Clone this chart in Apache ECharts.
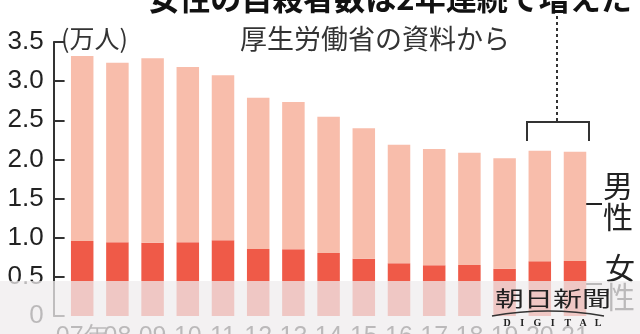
<!DOCTYPE html>
<html>
<head>
<meta charset="utf-8">
<script src="https://cdn.jsdelivr.net/npm/echarts@6/dist/echarts.min.js"></script>
<style>html,body{margin:0;padding:0;background:#fff;}#c{width:640px;height:334px;}</style>
</head>
<body>
<div id="c"></div>
<script>
const categories = ['07年','08','09','10','11','12','13','14','15','16','17','18','19','20','21'];
const women = [0.958,0.941,0.936,0.941,0.967,0.856,0.852,0.805,0.732,0.673,0.648,0.651,0.604,0.699,0.703];
const men = [2.363,2.294,2.356,2.239,2.107,1.932,1.881,1.741,1.665,1.515,1.485,1.435,1.410,1.412,1.396];
const yTickLabels = ['0','0.5','1.0','1.5','2.0','2.5','3.0','3.5'];

const JP = '"Noto Sans CJK JP"';
const chart = echarts.init(document.getElementById('c'));

function yLabel(v) {
  const n = Number(v);
  const idx = Math.round(n / 0.5);
  if (Math.abs(idx * 0.5 - n) < 1e-6 && idx >= 0 && idx < yTickLabels.length) return yTickLabels[idx];
  return isFinite(n) ? n.toFixed(1) : '';
}

const digital = 'DIGITAL'.split('');
const logoLetters = digital.map((ch, i) => ({
  type: 'text', x: 507 + i * 15.2, y: 323, z: 102,
  style: { text: ch, font: 'bold 10px "Liberation Serif"', fill: '#222', align: 'center', verticalAlign: 'middle' }
}));

chart.setOption({
  animation: false,
  grid: [
    { left: 53.6, right: 47.4, top: 42, bottom: 18, outerBoundsMode: 'none' },
    { left: 64.6, right: 47.4, top: 42, bottom: 18, outerBoundsMode: 'none' }
  ],
  xAxis: [
    { type: 'category', gridIndex: 0, data: [''], axisLine: { show: false }, axisTick: { show: false }, axisLabel: { show: false } },
    {
      type: 'category', gridIndex: 1, data: categories,
      axisLine: { show: false }, axisTick: { show: false },
      axisLabel: { interval: 0, margin: 9, color: '#222', fontSize: 25, fontFamily: '"Liberation Sans"' }
    }
  ],
  yAxis: [
    {
      type: 'value', gridIndex: 0, min: 0, max: 3.5, interval: 0.5,
      axisLine: { show: true, lineStyle: { color: '#333', width: 2 } },
      axisTick: { show: false },
      splitLine: { lineStyle: { opacity: 0 } },
      axisLabel: { margin: 10, color: '#222', fontSize: 26, fontFamily: '"Liberation Sans"', formatter: yLabel }
    },
    {
      type: 'value', gridIndex: 1, min: 0, max: 3.5, interval: 0.5,
      axisLine: { show: true, lineStyle: { color: '#333', width: 0, opacity: 0 } },
      axisTick: { show: true, length: 11, lineStyle: { color: '#333', width: 2 } },
      axisLabel: { show: false },
      splitLine: { lineStyle: { opacity: 0 } }
    }
  ],
  series: [
    { type: 'bar', name: '女性', stack: 't', xAxisIndex: 1, yAxisIndex: 1, data: women, barWidth: 22.5, itemStyle: { color: '#ef5a48' } },
    { type: 'bar', name: '男性', stack: 't', xAxisIndex: 1, yAxisIndex: 1, data: men, barWidth: 22.5, itemStyle: { color: '#f8bdab' } }
  ],
  graphic: [
    { type: 'text', x: 390, y: -2, style: { text: '女性の自殺者数は2年連続で増えた', font: 'bold 31px ' + JP, fill: '#111', align: 'center', verticalAlign: 'middle' } },
    { type: 'text', x: 61, y: 38, style: { text: '(万人)', font: '25px ' + JP, fill: '#333', align: 'left', verticalAlign: 'middle' } },
    { type: 'text', x: 240, y: 39, style: { text: '厚生労働省の資料から', font: '27px ' + JP, fill: '#333', align: 'left', verticalAlign: 'middle' } },
    { type: 'line', shape: { x1: 557, y1: 16, x2: 557, y2: 122 }, style: { stroke: '#333', lineWidth: 2, lineDash: [3, 3] } },
    { type: 'polyline', shape: { points: [[527, 141], [527, 122], [589, 122], [589, 141]] }, style: { stroke: '#333', lineWidth: 2, fill: null } },
    { type: 'line', shape: { x1: 583, y1: 204, x2: 602, y2: 204 }, style: { stroke: '#222', lineWidth: 2 } },
    { type: 'text', x: 618, y: 186, style: { text: '男', font: '30px ' + JP, fill: '#222', align: 'center', verticalAlign: 'middle' } },
    { type: 'text', x: 618, y: 217, style: { text: '性', font: '30px ' + JP, fill: '#222', align: 'center', verticalAlign: 'middle' } },
    { type: 'line', shape: { x1: 583, y1: 284, x2: 602, y2: 284 }, style: { stroke: '#222', lineWidth: 2 } },
    { type: 'text', x: 620, y: 268, style: { text: '女', font: '30px ' + JP, fill: '#222', align: 'center', verticalAlign: 'middle' } },
    { type: 'text', x: 620, y: 297, style: { text: '性', font: '30px ' + JP, fill: '#222', align: 'center', verticalAlign: 'middle' } },
    { type: 'rect', z: 100, shape: { x: 0, y: 281, width: 640, height: 53 }, style: { fill: 'rgba(239,236,238,0.75)' } },
    { type: 'text', z: 101, x: 553, y: 298, scaleY: 0.72, style: { text: '朝日新聞', font: '29px ' + JP, fill: '#222', align: 'center', verticalAlign: 'middle' } },
    { type: 'bezierCurve', z: 101, shape: { x1: 492, y1: 316, x2: 604, y2: 316, cpx1: 548, cpy1: 306 }, style: { stroke: '#333', lineWidth: 1.5, fill: null } }
  ].concat(logoLetters)
});
</script>
</body>
</html>
